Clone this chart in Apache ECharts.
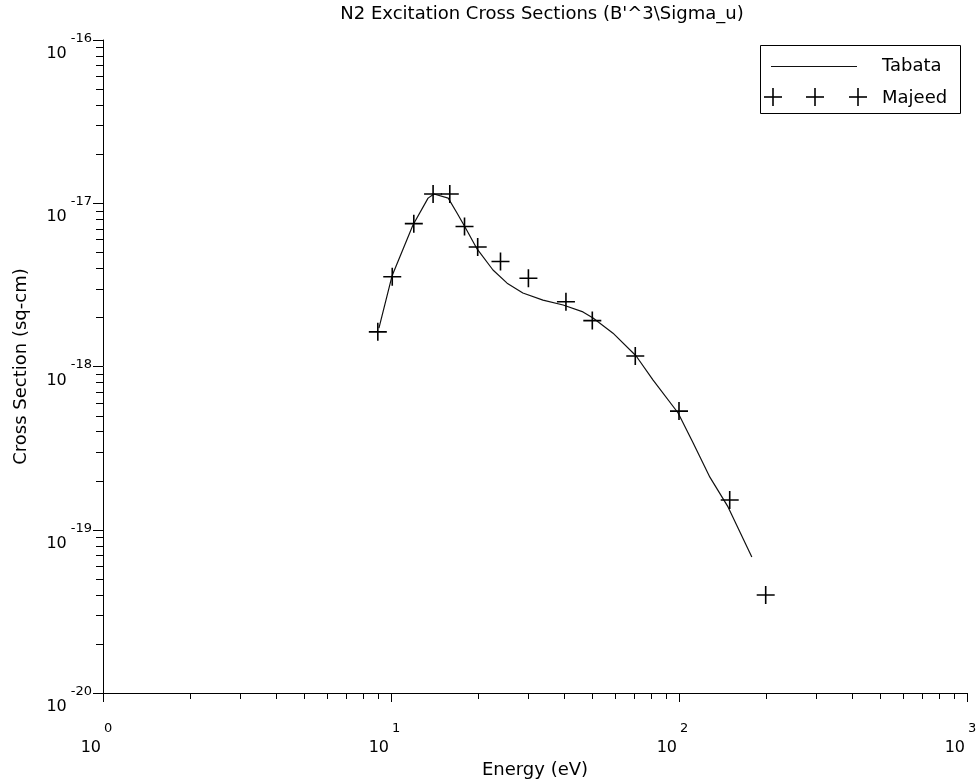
<!DOCTYPE html>
<html>
<head>
<meta charset="utf-8">
<script src="https://cdn.jsdelivr.net/npm/echarts@6/dist/echarts.min.js"></script>
<style>
  html, body { margin: 0; padding: 0; background: #fff; }
  #chart { width: 980px; height: 781px; }
</style>
</head>
<body>
<div id="chart"></div>
<script>
// Tabata analytic fit (solid line)
const tabataEnergy = [9.08, 10.08, 11.92, 13.45, 14.1, 15.8, 16.95, 18.07, 19.9, 22.6, 25.3, 28.7,
                      33.7, 39.6, 46.4, 50.3, 59.0, 71.0, 81.3, 99.3, 112, 128, 148, 179];
const tabataSigma  = [1.72e-18, 3.58e-18, 7.36e-18, 1.075e-17, 1.14e-17, 1.075e-17, 8.71e-18, 7.15e-18,
                      5.25e-18, 3.90e-18, 3.24e-18, 2.82e-18, 2.55e-18, 2.38e-18, 2.16e-18, 1.98e-18,
                      1.60e-18, 1.16e-18, 8.26e-19, 5.19e-19, 3.40e-19, 2.10e-19, 1.38e-19, 6.81e-20];

// Majeed measurements (plus markers)
const majeedEnergy = [9.0, 10.1, 12.0, 14.0, 16.0, 18.0, 20.0, 24.0, 30.0, 40.5, 50.0, 70.5, 100, 150, 200];
const majeedSigma  = [1.63e-18, 3.55e-18, 7.5e-18, 1.14e-17, 1.14e-17, 7.2e-18, 5.4e-18, 4.4e-18,
                      3.47e-18, 2.49e-18, 1.91e-18, 1.16e-18, 5.33e-19, 1.52e-19, 3.98e-20];

// Decade exponents of the axes
const xDecades = [0, 1, 2, 3];
const yDecades = [-20, -19, -18, -17, -16];
const minorMultipliers = [2, 3, 4, 5, 6, 7, 8, 9];

const FONT = 'DejaVu Sans';

const xMinor = [];
for (let i = 0; i < xDecades.length - 1; i++) {
  minorMultipliers.forEach(m => xMinor.push(m * Math.pow(10, xDecades[i])));
}
const yMinor = [];
for (let i = 0; i < yDecades.length - 1; i++) {
  minorMultipliers.forEach(m => yMinor.push(m * Math.pow(10, yDecades[i])));
}
const xMin = Math.pow(10, xDecades[0]), xMax = Math.pow(10, xDecades[xDecades.length - 1]);
const yMin = Math.pow(10, yDecades[0]), yMax = Math.pow(10, yDecades[yDecades.length - 1]);

const expOf = v => Math.round(Math.log10(v));

const chart = echarts.init(document.getElementById('chart'), null, { renderer: 'canvas' });

chart.setOption({
  animation: false,
  backgroundColor: '#fff',
  textStyle: { fontFamily: FONT, color: '#000' },
  title: {
    text: "N2 Excitation Cross Sections (B'^3\\Sigma_u)",
    left: 537, top: 0, textAlign: 'center',
    textStyle: { fontFamily: FONT, fontSize: 18, fontWeight: 'normal', color: '#000' }
  },
  grid: { left: 103, right: 13, top: 40, bottom: 88, containLabel: false, outerBoundsMode: 'none' },
  xAxis: {
    type: 'log', logBase: 10, min: xMin, max: xMax,
    name: 'Energy (eV)', nameLocation: 'middle', nameGap: 64,
    nameTextStyle: { fontFamily: FONT, fontSize: 18, color: '#000' },
    axisLine: { show: true, onZero: false, lineStyle: { color: '#000', width: 1 } },
    axisTick: { show: true, inside: false, length: 9, lineStyle: { color: '#000', width: 1 } },
    splitLine: { show: false },
    minorTick: { show: false },
    axisLabel: {
      margin: 29, color: '#000', fontFamily: FONT,
      formatter: v => '{b|10}{s|' + expOf(v) + '}',
      rich: {
        b: { fontFamily: FONT, fontSize: 16, lineHeight: 34, verticalAlign: 'bottom', padding: [0, 3, 0, 0], color: '#000' },
        s: { fontFamily: FONT, fontSize: 13, verticalAlign: 'top', padding: [0, 13, 0, 0], color: '#000' }
      }
    }
  },
  yAxis: {
    type: 'log', logBase: 10, min: yMin, max: yMax,
    name: 'Cross Section (sq-cm)', nameLocation: 'middle', nameGap: 73,
    nameTextStyle: { fontFamily: FONT, fontSize: 18, color: '#000' },
    axisLine: { show: true, onZero: false, lineStyle: { color: '#000', width: 1 } },
    axisTick: { show: true, inside: false, length: 10, lineStyle: { color: '#000', width: 1 } },
    splitLine: { show: false },
    minorTick: { show: false },
    axisLabel: {
      margin: 11, color: '#000', fontFamily: FONT,
      padding: [14, 0, 0, 0],
      formatter: v => '{b|10}{s|' + expOf(v) + '}',
      rich: {
        b: { fontFamily: FONT, fontSize: 16, lineHeight: 30, verticalAlign: 'bottom', padding: [0, 4, 0, 0], color: '#000' },
        s: { fontFamily: FONT, fontSize: 13, verticalAlign: 'top', color: '#000' }
      }
    }
  },
  series: [
    {
      name: 'Tabata', type: 'line',
      data: tabataEnergy.map((e, i) => [e, tabataSigma[i]]),
      showSymbol: false, symbol: 'none',
      lineStyle: { color: '#111', width: 1.2 },
      z: 3
    },
    {
      name: 'Majeed', type: 'scatter',
      data: majeedEnergy.map((e, i) => [e, majeedSigma[i]]),
      symbol: 'path://M0,10H20M10,0V20',
      symbolSize: 18,
      itemStyle: { color: 'rgba(0,0,0,0)', borderColor: '#000', borderWidth: 1.6, opacity: 1 },
      z: 4
    },
    {
      // minor ticks of the energy axis at 2..9 of each decade
      name: 'xMinorTicks', type: 'custom', silent: true, clip: false,
      data: xMinor.map(v => [v, yMin]),
      renderItem: (params, api) => {
        const p = api.coord([api.value(0), api.value(1)]);
        const x = Math.round(p[0]) + 0.5;
        return { type: 'line', shape: { x1: x, y1: p[1], x2: x, y2: p[1] + 6 },
                 style: { stroke: '#000', lineWidth: 1 } };
      },
      z: 2
    },
    {
      // minor ticks of the cross-section axis at 2..9 of each decade
      name: 'yMinorTicks', type: 'custom', silent: true, clip: false,
      data: yMinor.map(v => [xMin, v]),
      renderItem: (params, api) => {
        const p = api.coord([api.value(0), api.value(1)]);
        const y = Math.round(p[1]) + 0.5;
        return { type: 'line', shape: { x1: p[0] - 7, y1: y, x2: p[0], y2: y },
                 style: { stroke: '#000', lineWidth: 1 } };
      },
      z: 2
    }
  ],
  graphic: [
    {
      type: 'group', left: 760, top: 45,
      children: [
        { type: 'rect', shape: { x: 0.5, y: 0.5, width: 200, height: 68 },
          style: { fill: '#fff', stroke: '#000', lineWidth: 1 } },
        { type: 'line', shape: { x1: 11, y1: 21.5, x2: 97, y2: 21.5 },
          style: { stroke: '#111', lineWidth: 1.2 } },
        { type: 'text', x: 122, y: 21,
          style: { text: 'Tabata', fontFamily: FONT, fontSize: 18, fill: '#000', verticalAlign: 'middle' } },
        { type: 'line', shape: { x1: 4, y1: 52, x2: 22, y2: 52 }, style: { stroke: '#000', lineWidth: 1.6 } },
        { type: 'line', shape: { x1: 13, y1: 43, x2: 13, y2: 61 }, style: { stroke: '#000', lineWidth: 1.6 } },
        { type: 'line', shape: { x1: 46, y1: 52, x2: 64, y2: 52 }, style: { stroke: '#000', lineWidth: 1.6 } },
        { type: 'line', shape: { x1: 55, y1: 43, x2: 55, y2: 61 }, style: { stroke: '#000', lineWidth: 1.6 } },
        { type: 'line', shape: { x1: 89, y1: 52, x2: 107, y2: 52 }, style: { stroke: '#000', lineWidth: 1.6 } },
        { type: 'line', shape: { x1: 98, y1: 43, x2: 98, y2: 61 }, style: { stroke: '#000', lineWidth: 1.6 } },
        { type: 'text', x: 122, y: 53,
          style: { text: 'Majeed', fontFamily: FONT, fontSize: 18, fill: '#000', verticalAlign: 'middle' } }
      ]
    }
  ]
});
</script>
</body>
</html>
